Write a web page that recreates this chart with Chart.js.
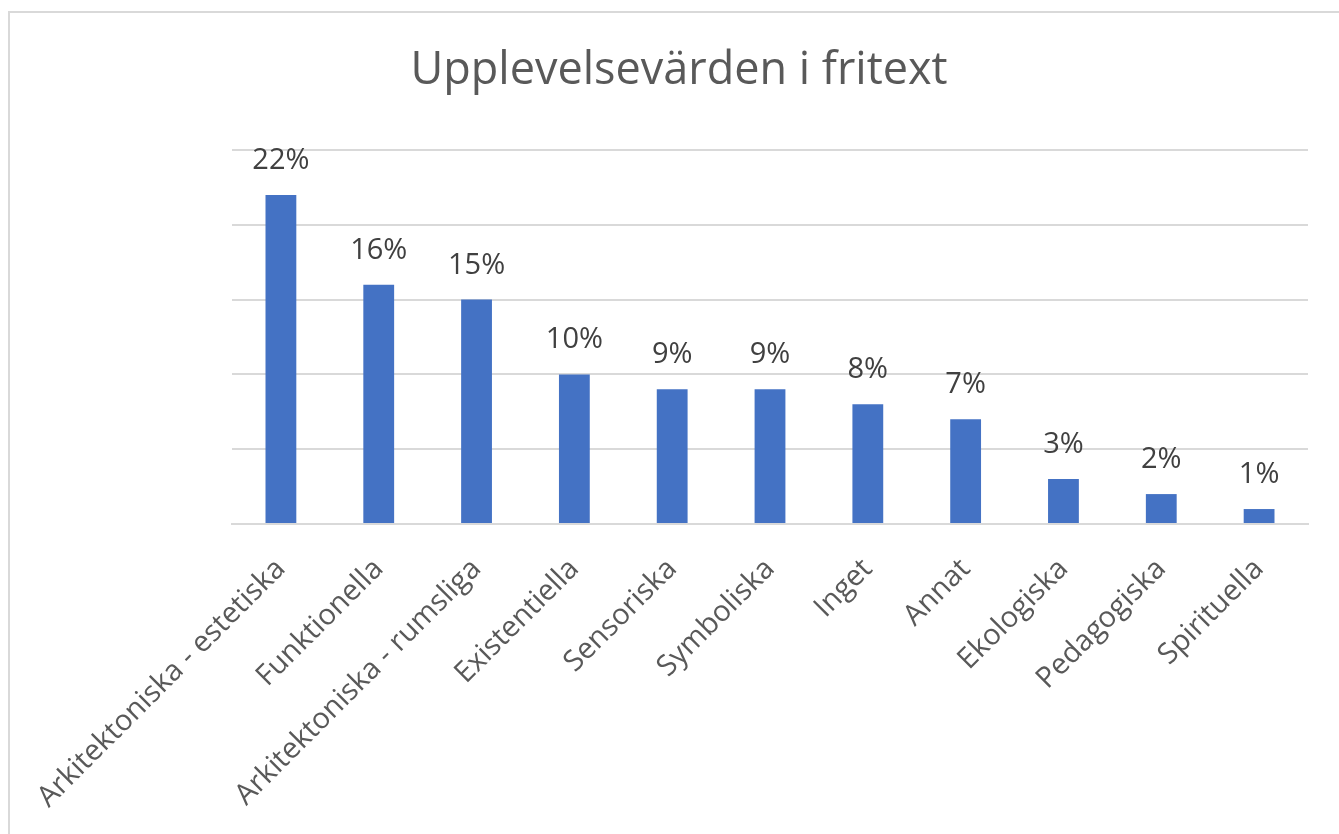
<!DOCTYPE html>
<html>
<head>
<meta charset="utf-8">
<script src="https://cdn.jsdelivr.net/npm/chart.js@4"></script>
<style>
  html, body { margin: 0; padding: 0; background: #fff; overflow: hidden; }
  .frame { position: absolute; left: 8px; top: 11px; width: 1400px; height: 900px; border: 2px solid #d9d9d9; }
  .wrap { position: absolute; left: 0; top: 0; width: 1339px; height: 834px; }
</style>
</head>
<body>
<div class="frame"></div>
<div class="wrap"><canvas id="chart"></canvas></div>
<script>
// chart data
const categories = ['Arkitektoniska - estetiska', 'Funktionella', 'Arkitektoniska - rumsliga', 'Existentiella',
  'Sensoriska', 'Symboliska', 'Inget', 'Annat', 'Ekologiska', 'Pedagogiska', 'Spirituella'];
const shares = [22, 16, 15, 10, 9, 9, 8, 7, 3, 2, 1];
const yTicks = [0, 5, 10, 15, 20, 25];

const textGray = '#595959';
const gridGray = '#d9d9d9';
const barBlue = '#4472c4';
const fontFamily = '"Open Sans", "Liberation Sans", sans-serif';

// draws the percent label above each bar
const barLabels = {
  id: 'barLabels',
  afterDatasetsDraw(chart) {
    const ctx = chart.ctx;
    const meta = chart.getDatasetMeta(0);
    ctx.save();
    ctx.font = '29px ' + fontFamily;
    ctx.fillStyle = '#404040';
    ctx.textAlign = 'center';
    ctx.textBaseline = 'alphabetic';
    meta.data.forEach((bar, i) => {
      ctx.fillText(shares[i] + '%', bar.x, bar.y - 26);
    });
    ctx.restore();
  }
};

const chart = new Chart(document.getElementById('chart'), {
  type: 'bar',
  data: {
    labels: categories,
    datasets: [{
      data: shares,
      backgroundColor: barBlue,
      borderWidth: 0,
      barPercentage: 0.315,
      categoryPercentage: 1
    }]
  },
  options: {
    responsive: true,
    maintainAspectRatio: false,
    animation: false,
    layout: { padding: { left: 19, right: 0, top: 0, bottom: 0 } },
    plugins: {
      legend: { display: false },
      tooltip: { enabled: false },
      title: {
        display: true,
        text: 'Upplevelsevärden i fritext',
        color: textGray,
        font: { family: fontFamily, size: 45, weight: 'normal' },
        padding: { top: 44, bottom: 52 }
      }
    },
    scales: {
      x: {
        grid: { display: false },
        border: { display: true, color: gridGray, width: 2 },
        ticks: {
          color: textGray,
          font: { family: fontFamily, size: 29 },
          maxRotation: 45,
          minRotation: 45,
          autoSkip: false,
          padding: 20
        },
        afterFit(scale) { scale.height = 310; }
      },
      y: {
        min: 0,
        max: yTicks[yTicks.length - 1],
        afterBuildTicks(scale) { scale.ticks = yTicks.map(v => ({ value: v })); },
        grid: { color: gridGray, lineWidth: 2, drawTicks: false },
        border: { display: false },
        ticks: { display: false },
        afterFit(scale) { scale.width = 213; }
      },
      // empty right axis, only keeps space on the right side
      yRight: {
        position: 'right',
        grid: { display: false, drawTicks: false },
        border: { display: false },
        ticks: { display: false },
        afterFit(scale) { scale.width = 31; }
      }
    }
  },
  plugins: [barLabels]
});
</script>
</body>
</html>
